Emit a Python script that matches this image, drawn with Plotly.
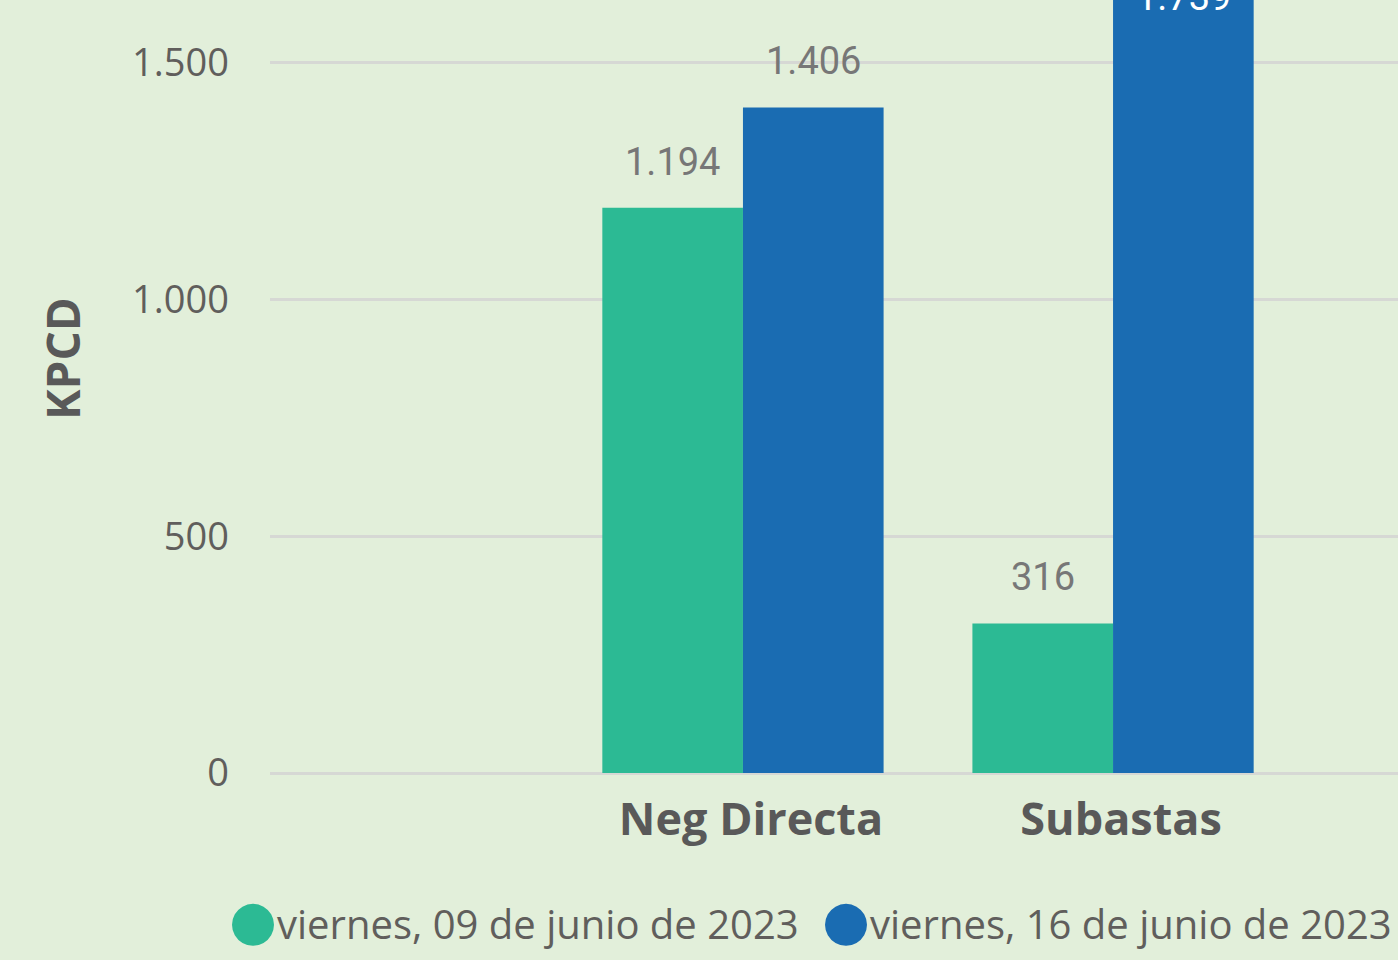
import plotly.graph_objects as go

categories = ["Neg Directa", "Subastas"]
series_names = ["viernes, 09 de junio de 2023", "viernes, 16 de junio de 2023"]
values_0609 = [1194, 316]
values_0616 = [1406, 1739]
colors = ["#2CBA94", "#1A6CB2"]

BG = "#E2EFDA"
GRID = "#D6D8D4"
YMAX = 1633
BARGAP = 0.24

fig = go.Figure()
for vals, nm, c in zip([values_0609, values_0616], series_names, colors):
    fig.add_trace(go.Bar(
        x=categories, y=vals, name=nm,
        marker=dict(color=c, line=dict(width=0)),
        showlegend=False,
    ))

# data labels (positioned through the axes at the bar centres)
half = (1 - BARGAP) / 4
for s, vals in enumerate([values_0609, values_0616]):
    off = -half if s == 0 else half
    for i, v in enumerate(vals):
        label = f"{v:,}".replace(",", ".")
        if v <= YMAX:
            fig.add_annotation(
                x=i + off, y=v, xref="x", yref="y", showarrow=False,
                yanchor="middle", yshift=46, text=label,
                font=dict(family="Roboto", size=38, color="#777777"),
            )
        else:
            fig.add_annotation(
                x=i + off, y=YMAX, xref="x", yref="y", showarrow=False,
                yanchor="middle", yshift=3, text=label,
                font=dict(family="Roboto", size=38, color="#FFFFFF"),
            )

# custom legend (circle markers) as text
legend_x = [227, 820]
for i, (nm, c) in enumerate(zip(series_names, colors)):
    fig.add_annotation(
        xref="paper", yref="paper",
        x=(legend_x[i] - 270) / (1398 - 270), y=-0.19,
        xanchor="left", yanchor="middle", showarrow=False,
        text=f"<span style='color:{c};font-size:55px;font-family:DejaVu Sans'>●</span>{nm}",
        font=dict(family="Open Sans", size=40, color="#605E5C"),
    )

# y-axis title
fig.add_annotation(
    xref="paper", yref="paper", x=(62 - 270) / (1398 - 270), y=(773 - 359) / 773,
    xanchor="center", yanchor="middle", textangle=-90, showarrow=False,
    text="KPCD", font=dict(family="Open Sans", size=46, color="#595959", weight="bold"),
)

fig.update_layout(
    width=1398, height=960,
    margin=dict(l=270, r=0, t=0, b=187),
    paper_bgcolor=BG, plot_bgcolor=BG,
    separators=",.",
    barmode="group", bargap=BARGAP, bargroupgap=0,
    font=dict(family="Open Sans", color="#605E5C"),
    xaxis=dict(
        range=[-1.278, 1.77], showgrid=False, showline=False, zeroline=False,
        ticks="", tickfont=dict(family="Open Sans", size=45, color="#595959", weight="bold"),
        ticklabelstandoff=16, ticklabelshift=8,
    ),
    yaxis=dict(
        range=[0, YMAX], dtick=500, tickformat=",.0f", showgrid=True, gridcolor=GRID, gridwidth=3,
        zeroline=True, zerolinecolor=GRID, zerolinewidth=3, showline=False,
        ticks="", tickfont=dict(family="Open Sans", size=38, color="#605E5C"),
        ticklabelstandoff=40,
    ),
)

fig.write_html("out.html")
